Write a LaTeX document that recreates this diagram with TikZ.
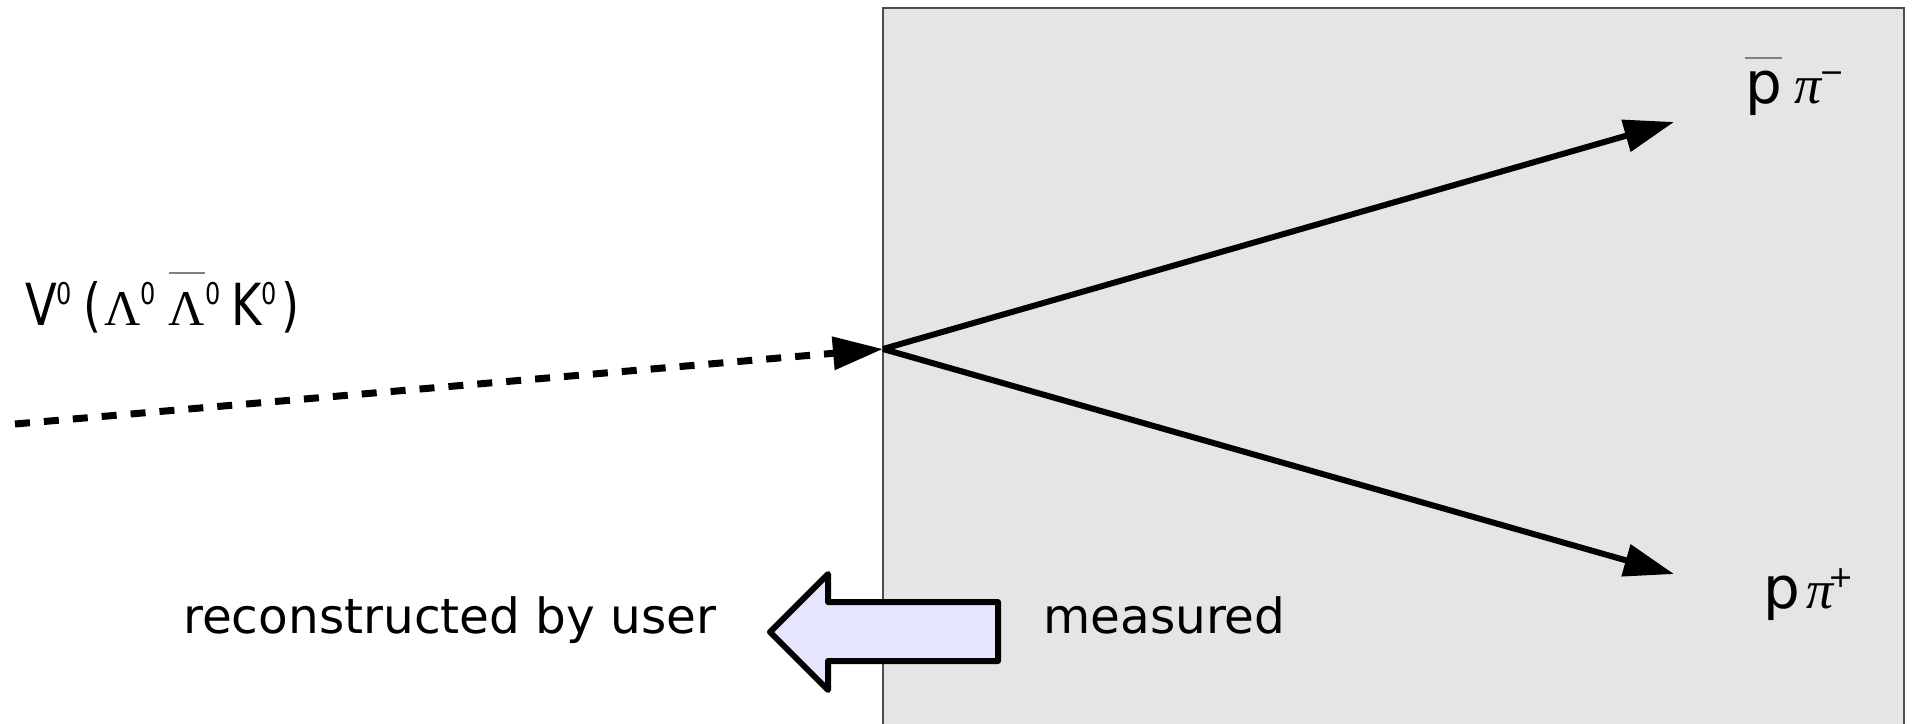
\documentclass[tikz,border=0pt]{standalone}
\usepackage{fontspec}
\setmainfont{DejaVu Sans}
\newfontfamily\narrowsans[FakeStretch=0.8]{DejaVu Sans}
\newfontfamily\grkfont{Liberation Serif}
\usetikzlibrary{arrows.meta}
\definecolor{panelgray}{HTML}{E5E5E5}
\definecolor{arrowfill}{HTML}{E6E6FF}
% small raised index, and a bar over a symbol
\newcommand{\sups}[1]{\raisebox{21pt}{\fontsize{30}{30}\selectfont #1}}
\newcommand{\antibar}[2]{\leavevmode\vbox{\color{gray}\hrule height 1.5pt\kern #1\hbox{\color{black}#2}}}
\newcommand{\bigL}{{\grkfont\fontsize{50}{50}\selectfont Λ}}
\newcommand{\piletter}{{\grkfont\itshape\fontsize{54}{54}\selectfont π}}

\begin{document}
\begin{tikzpicture}[x=1pt,y=-1pt]
            \useasboundingbox (0,0) rectangle (1916,723);
            \fill [panelgray] (883,8) rectangle (1904,726);
            \draw [line width=1.2pt, black!70] (883,726) -- (883,8) -- (1904,8) -- (1904,726);
            \coordinate (src) at (15,424);
            \coordinate (vtx) at (883,349);
            \coordinate (tipbar) at (1674,122);
            \coordinate (tipp) at (1674,574);
            \draw [line width=7pt, dash pattern=on 15pt off 14pt, -{Triangle[length=50pt,width=32pt]}] (src) -- (vtx);
            \draw [line width=6pt, -{Triangle[length=50pt,width=32pt]}] (vtx) -- (tipbar);
            \draw [line width=6pt, -{Triangle[length=50pt,width=32pt]}] (vtx) -- (tipp);
            \draw [line width=6pt, line join=round, fill=arrowfill] (770,632) -- (828,574) -- (828,602) -- (998,602) -- (998,661) -- (828,661) -- (828,690) -- cycle;
            \node [anchor = base west, inner sep=0pt, font=\narrowsans\fontsize{58}{60}\selectfont] (vlabel) at (25,325)
                {V\sups{0}\hspace{11pt}(\hspace{3pt}\bigL\sups{0}\hspace{13pt}\antibar{18pt}{\bigL}\sups{0}\hspace{11pt}K\sups{0}\hspace{4pt})};
            \node [anchor = base west, inner sep=0pt, font=\fontsize{58}{60}\selectfont] (pbarpi) at (1745,103)
                {\antibar{12pt}{p}\hspace{12pt}\piletter\hspace{-2pt}\sups{−}};
            \node [anchor = base west, inner sep=0pt, font=\fontsize{58}{60}\selectfont] (ppi) at (1763,608)
                {p\hspace{6pt}\piletter\hspace{-5pt}\sups{+}};
            \node [anchor = base west, inner sep=0pt, font=\fontsize{48.5}{50}\selectfont] (recon) at (183,633) {reconstructed by user};
            \node [anchor = base west, inner sep=0pt, font=\fontsize{48.5}{50}\selectfont] (meas) at (1043,633) {measured};
        \end{tikzpicture}
\end{document}
